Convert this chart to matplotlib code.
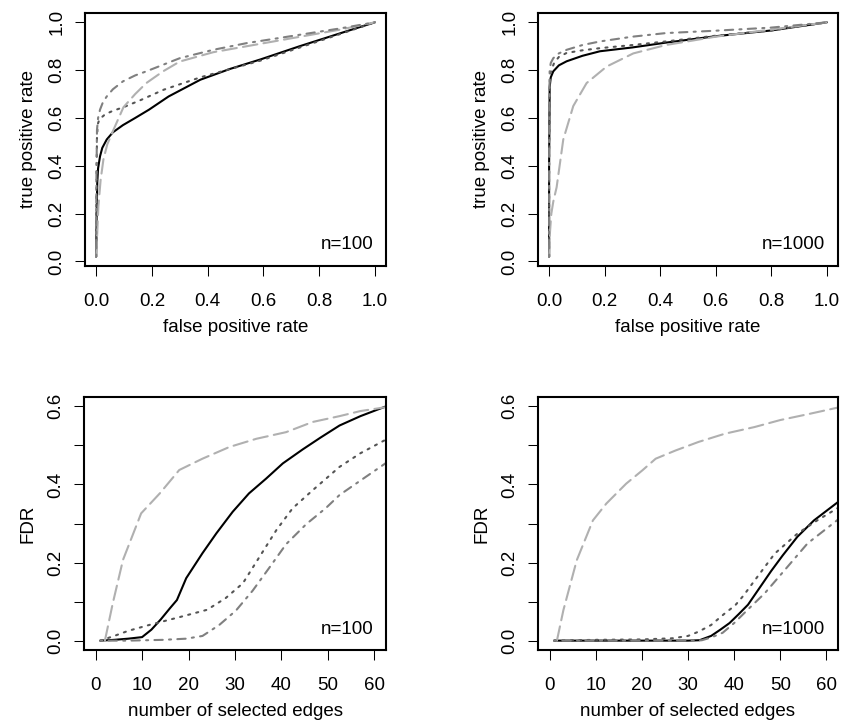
import matplotlib
matplotlib.use("Agg")
import matplotlib.pyplot as plt

plt.rcParams['font.family'] = ['Liberation Sans', 'DejaVu Sans']
plt.rcParams['font.size'] = 13.5

# ====== DATA ======

# ROC, n=100
roc100_fpr_solid = [0, 0.002, 0.004, 0.007, 0.014, 0.022, 0.038, 0.06, 0.096, 0.14, 0.19, 0.26, 0.374,
                    0.48, 0.59, 0.73, 0.878, 1.0]
roc100_tpr_solid = [0.02, 0.2, 0.33, 0.39, 0.44, 0.475, 0.51, 0.54, 0.57, 0.60, 0.635, 0.69, 0.76,
                    0.805, 0.845, 0.90, 0.955, 1.0]
roc100_fpr_dot = [0, 0.001, 0.003, 0.006, 0.012, 0.032, 0.06, 0.098, 0.16, 0.242, 0.374, 0.59, 0.878, 1.0]
roc100_tpr_dot = [0.02, 0.3, 0.52, 0.575, 0.595, 0.615, 0.63, 0.645, 0.675, 0.718, 0.77, 0.84, 0.952, 1.0]
roc100_fpr_ldash = [0, 0.004, 0.008, 0.016, 0.026, 0.04, 0.062, 0.098, 0.14, 0.18, 0.24, 0.30, 0.42, 0.54, 0.878, 1.0]
roc100_tpr_ldash = [0.02, 0.12, 0.23, 0.34, 0.426, 0.49, 0.55, 0.645, 0.70, 0.746, 0.795, 0.836, 0.875, 0.90,
                    0.97, 1.0]
roc100_fpr_dotdash = [0, 0.001, 0.003, 0.007, 0.014, 0.024, 0.038, 0.06, 0.096, 0.14, 0.18, 0.30, 0.42, 0.54,
                      0.878, 1.0]
roc100_tpr_dotdash = [0.02, 0.35, 0.55, 0.60, 0.635, 0.665, 0.69, 0.72, 0.753, 0.778, 0.795, 0.85, 0.885,
                      0.913, 0.975, 1.0]

# ROC, n=1000
roc1000_fpr_solid = [0, 0.0, 0.002, 0.006, 0.015, 0.035, 0.063, 0.12, 0.183, 0.30, 0.42, 0.6, 0.8, 1.0]
roc1000_tpr_solid = [0.02, 0.4, 0.73, 0.77, 0.795, 0.82, 0.837, 0.86, 0.879, 0.895, 0.915, 0.942, 0.966, 1.0]
roc1000_fpr_dot = [0, 0.0, 0.003, 0.008, 0.018, 0.035, 0.063, 0.12, 0.183, 0.30, 0.42, 0.6, 0.8, 1.0]
roc1000_tpr_dot = [0.02, 0.45, 0.78, 0.80, 0.83, 0.855, 0.872, 0.883, 0.892, 0.905, 0.92, 0.944, 0.966, 1.0]
roc1000_fpr_ldash = [0, 0.003, 0.008, 0.015, 0.027, 0.051, 0.087, 0.135, 0.207, 0.303, 0.42, 0.6, 0.8, 1.0]
roc1000_tpr_ldash = [0.02, 0.12, 0.2, 0.25, 0.31, 0.51, 0.65, 0.746, 0.815, 0.87, 0.905, 0.94, 0.97, 1.0]
roc1000_fpr_dotdash = [0, 0.0, 0.002, 0.006, 0.015, 0.035, 0.063, 0.12, 0.183, 0.30, 0.42, 0.6, 0.8, 1.0]
roc1000_tpr_dotdash = [0.02, 0.5, 0.8, 0.83, 0.85, 0.87, 0.885, 0.905, 0.92, 0.94, 0.955, 0.965, 0.978, 1.0]

# FDR, n=100
fdr100_x_solid = [1, 4, 7, 10, 12, 14, 16, 17.5, 19.5, 23, 26, 29.5, 33, 36.7, 40.3, 44.6, 48.4, 52.5, 57, 62.5]
fdr100_y_solid = [0, 0.002, 0.005, 0.009, 0.028, 0.054, 0.083, 0.104, 0.16, 0.224, 0.275, 0.33, 0.377, 0.415,
                  0.454, 0.49, 0.52, 0.551, 0.575, 0.6]
fdr100_x_dot = [1, 4, 7, 11.5, 18, 24, 28, 31.7, 35.3, 38.9, 42.4, 46.7, 52.5, 57, 62.5]
fdr100_y_dot = [0, 0.012, 0.025, 0.04, 0.06, 0.079, 0.109, 0.147, 0.215, 0.283, 0.339, 0.385, 0.445, 0.48, 0.515]
fdr100_x_ldash = [2, 3.7, 5.9, 9.8, 13.8, 18, 23, 28.8, 34.6, 41, 46.7, 52.5, 57, 62.5]
fdr100_y_ldash = [0, 0.096, 0.207, 0.326, 0.377, 0.437, 0.466, 0.496, 0.517, 0.534, 0.56, 0.575, 0.588, 0.598]
fdr100_x_dotdash = [1, 7, 14.5, 19.5, 23, 26.6, 30.2, 33.8, 37.4, 41, 45.3, 49.6, 52.5, 57, 62.5]
fdr100_y_dotdash = [0, 0, 0.002, 0.005, 0.012, 0.04, 0.077, 0.128, 0.187, 0.247, 0.298, 0.34, 0.373, 0.41, 0.455]

# FDR, n=1000
fdr1000_x_solid = [1, 30, 32.5, 35, 37, 39, 41, 43, 45.5, 48, 50.5, 53.7, 57.3, 62.5]
fdr1000_y_solid = [0, 0, 0.001, 0.012, 0.028, 0.045, 0.068, 0.092, 0.135, 0.178, 0.218, 0.266, 0.308, 0.355]
fdr1000_x_dot = [1, 10, 20, 26.6, 30, 32.3, 35, 38, 40.2, 42, 44.5, 48.8, 53.7, 58, 62.5]
fdr1000_y_dot = [0, 0.002, 0.003, 0.006, 0.012, 0.023, 0.04, 0.07, 0.09, 0.115, 0.155, 0.223, 0.274, 0.308, 0.34]
fdr1000_x_ldash = [1.6, 3, 5.9, 9.4, 12.3, 16.6, 20.1, 23, 27.3, 32.3, 38, 44.4, 50, 56, 62.5]
fdr1000_y_ldash = [0, 0.078, 0.206, 0.308, 0.351, 0.402, 0.436, 0.466, 0.487, 0.509, 0.53, 0.547, 0.565, 0.58, 0.597]
fdr1000_x_dotdash = [1, 30, 33, 35, 37.5, 40, 43, 46.6, 50.9, 55.9, 62.5]
fdr1000_y_dotdash = [0, 0, 0.001, 0.008, 0.02, 0.045, 0.08, 0.121, 0.18, 0.249, 0.31]

roc_ticks = [0.0, 0.2, 0.4, 0.6, 0.8, 1.0]
fdr_xticks = [0, 10, 20, 30, 40, 50, 60]
fdr_yticks = [0.0, 0.1, 0.2, 0.3, 0.4, 0.5, 0.6]
fdr_ylabels = ["0.0", "", "0.2", "", "0.4", "", "0.6"]

# ====== STYLES (R-like lty with lwd=2, round ends) ======
LW = 1.5
styles = {
    "solid": dict(color="black", linestyle="-"),
    "dot": dict(color="#555555", linestyle=(0, (1, 3))),
    "ldash": dict(color="#b0b0b0", linestyle=(0, (7, 3))),
    "dotdash": dict(color="#808080", linestyle=(0, (1, 3, 4, 3))),
}

W, H = 842, 725
fig = plt.figure(figsize=(W / 100, H / 100), dpi=100)


def make_axes(left, top, right, bottom):
    return fig.add_axes([left / W, 1 - bottom / H, (right - left) / W, (bottom - top) / H])


def style_axes(ax):
    for s in ax.spines.values():
        s.set_linewidth(1.5)
    ax.tick_params(direction="out", length=7.2, width=0.75)
    ax.tick_params(axis="x", pad=12)
    ax.tick_params(axis="y", pad=7)
    for lab in ax.get_yticklabels():
        lab.set_rotation(90)
        lab.set_va("center")


def draw(ax, curves):
    for key, (x, y) in curves:
        ax.plot(x, y, lw=LW, dash_capstyle="round", solid_capstyle="round", **styles[key])


ax1 = make_axes(85, 13, 386, 266)
ax2 = make_axes(538, 13, 838, 266)
ax3 = make_axes(84, 397, 386, 650)
ax4 = make_axes(538, 397, 838, 650)

draw(ax1, [("solid", (roc100_fpr_solid, roc100_tpr_solid)),
           ("dot", (roc100_fpr_dot, roc100_tpr_dot)),
           ("ldash", (roc100_fpr_ldash, roc100_tpr_ldash)),
           ("dotdash", (roc100_fpr_dotdash, roc100_tpr_dotdash))])
draw(ax2, [("solid", (roc1000_fpr_solid, roc1000_tpr_solid)),
           ("dot", (roc1000_fpr_dot, roc1000_tpr_dot)),
           ("ldash", (roc1000_fpr_ldash, roc1000_tpr_ldash)),
           ("dotdash", (roc1000_fpr_dotdash, roc1000_tpr_dotdash))])
draw(ax3, [("solid", (fdr100_x_solid, fdr100_y_solid)),
           ("dot", (fdr100_x_dot, fdr100_y_dot)),
           ("ldash", (fdr100_x_ldash, fdr100_y_ldash)),
           ("dotdash", (fdr100_x_dotdash, fdr100_y_dotdash))])
draw(ax4, [("solid", (fdr1000_x_solid, fdr1000_y_solid)),
           ("dot", (fdr1000_x_dot, fdr1000_y_dot)),
           ("ldash", (fdr1000_x_ldash, fdr1000_y_ldash)),
           ("dotdash", (fdr1000_x_dotdash, fdr1000_y_dotdash))])

for ax, lab in [(ax1, "n=100"), (ax2, "n=1000")]:
    ax.set_xlim(-0.04, 1.04)
    ax.set_ylim(-0.019, 1.039)
    ax.set_xticks(roc_ticks)
    ax.set_xticklabels([f"{t:.1f}" for t in roc_ticks])
    ax.set_yticks(roc_ticks)
    ax.set_yticklabels([f"{t:.1f}" for t in roc_ticks])
    ax.set_xlabel("false positive rate", labelpad=7)
    ax.set_ylabel("true positive rate", labelpad=8)
    ax.text(0.958, 0.085, lab, transform=ax.transAxes, ha="right", va="center")
    style_axes(ax)

for ax, lab in [(ax3, "n=100"), (ax4, "n=1000")]:
    ax.set_xlim(-2.5, 62.5)
    ax.set_ylim(-0.024, 0.624)
    ax.set_xticks(fdr_xticks)
    ax.set_yticks(fdr_yticks)
    ax.set_yticklabels(fdr_ylabels)
    ax.set_xlabel("number of selected edges", labelpad=7)
    ax.set_ylabel("FDR", labelpad=8)
    ax.text(0.958, 0.08, lab, transform=ax.transAxes, ha="right", va="center")
    style_axes(ax)

fig.savefig("out.png", dpi=100)
